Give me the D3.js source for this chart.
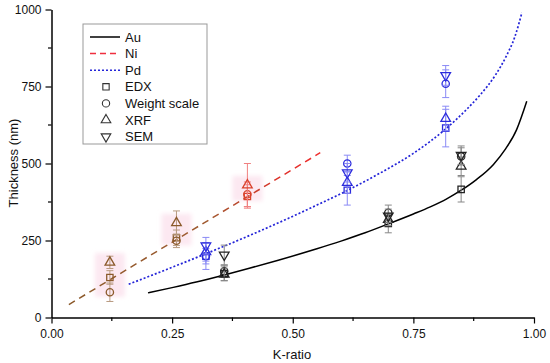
<!DOCTYPE html>
<html>
<head>
<meta charset="utf-8">
<script src="https://cdn.jsdelivr.net/npm/d3@7.9.0/dist/d3.min.js"></script>
<style>
  body { margin: 0; background: #fff; }
  svg { font-family: "Liberation Sans", Arial, sans-serif; }
</style>
</head>
<body>
<svg id="chart" width="550" height="363"></svg>
<script>
// fitted curves
const auK = [0.20, 0.25, 0.30, 0.36, 0.41, 0.47, 0.55, 0.60, 0.65, 0.70, 0.75, 0.785, 0.82, 0.85, 0.88, 0.916, 0.94, 0.964, 0.985];
const auT = [80, 97, 115, 139, 160, 186, 223, 248, 275, 305, 336, 359, 386, 414, 447, 497, 545, 610, 702];
const pdK = [0.16, 0.25, 0.32, 0.41, 0.474, 0.55, 0.61, 0.68, 0.75, 0.785, 0.819, 0.86, 0.888, 0.92, 0.943, 0.96, 0.975];
const pdT = [108, 163, 207, 266, 310, 365, 410, 468, 533, 572, 615, 675, 722, 787, 850, 910, 990];
const niK = [0.036, 0.557];
const niT = [42, 535];

// measured points (one value per K-ratio group)
const niGroups = [0.121, 0.259, 0.406];
const pdGroups = [0.32, 0.613, 0.817];
const auGroups = [0.358, 0.698, 0.849];

const niEDX = [130, 259, 393], niWeight = [82, 249, 400], niXRF = [179, 307, 430];
const pdEDX = [199, 413, 615], pdWeight = [199, 500, 759], pdXRF = [213, 438, 646], pdSEM = [233, 470, 786];
const auEDX = [143, 305, 416], auWeight = [150, 340, 523], auXRF = [140, 318, 491], auSEM = [203, 330, 527];

const niEDXErr = [22, 25, 38], niWeightErr = [30, 22, 40], niXRFErr = [20, 39, 70];
const pdEDXErr = [43, 48, 61], pdWeightErr = [25, 27, 45], pdXRFErr = [30, 35, 40], pdSEMErr = [27, 30, 32];
const auEDXErr = [24, 30, 41], auWeightErr = [20, 25, 28], auXRFErr = [20, 20, 30], auSEMErr = [32, 22, 30];

const xTicks = [0, 0.25, 0.5, 0.75, 1];
const yTicks = [0, 250, 500, 750, 1000];

const svg = d3.select('#chart');
const x = d3.scaleLinear().domain([0, 1]).range([51.5, 534]);
const y = d3.scaleLinear().domain([0, 1000]).range([317.5, 9.5]);

// pink halo behind the Ni groups
const defs = svg.append('defs');
defs.append('filter').attr('id', 'soft').attr('x', '-50%').attr('y', '-50%').attr('width', '200%').attr('height', '200%')
  .append('feGaussianBlur').attr('stdDeviation', 2);
const grad = defs.append('linearGradient').attr('id', 'niGrad').attr('gradientUnits', 'userSpaceOnUse')
  .attr('x1', x(niK[0])).attr('y1', y(niT[0])).attr('x2', x(niK[1])).attr('y2', y(niT[1]));
grad.append('stop').attr('offset', '0%').attr('stop-color', '#8b5a2b');
grad.append('stop').attr('offset', '55%').attr('stop-color', '#a05a30');
grad.append('stop').attr('offset', '85%').attr('stop-color', '#e0302a');
grad.append('stop').attr('offset', '100%').attr('stop-color', '#ef2f2f');

niGroups.forEach((k, i) => {
  const top = Math.max(niXRF[i] + 10, niWeight[i] + 10), bot = Math.min(niWeight[i], niEDX[i]) - 15;
  svg.append('rect')
    .attr('x', x(k) - 15).attr('width', 30)
    .attr('y', y(top + 20)).attr('height', y(bot) - y(top + 20))
    .attr('fill', '#fce8f1').attr('filter', 'url(#soft)');
});

// axes
const xAxis = d3.axisBottom(x).tickValues(xTicks).tickFormat(d3.format('.2f')).tickSize(6).tickSizeOuter(0);
const yAxis = d3.axisLeft(y).tickValues(yTicks).tickFormat(d3.format('d')).tickSize(6).tickSizeOuter(0);

const gx = svg.append('g').attr('transform', `translate(0,${y(0)})`).call(xAxis);
const gy = svg.append('g').attr('transform', `translate(${x(0)},0)`).call(yAxis);
[gx, gy].forEach(g => {
  g.select('.domain').attr('stroke', '#000').attr('stroke-width', 1.5);
  g.selectAll('.tick line').attr('stroke', '#000').attr('stroke-width', 1.2);
  g.selectAll('.tick text').attr('font-size', 12).attr('fill', '#111').attr('font-family', '"Liberation Sans", Arial, sans-serif');
});
gx.selectAll('.tick text').attr('dy', '0.95em');
gy.selectAll('.tick text').attr('dx', '-1px');

// minor ticks
svg.append('g').selectAll('line').data([0.125, 0.375, 0.625, 0.875]).join('line')
  .attr('x1', d => x(d)).attr('x2', d => x(d)).attr('y1', y(0)).attr('y2', y(0) + 3.5)
  .attr('stroke', '#000').attr('stroke-width', 1.2);
svg.append('g').selectAll('line').data([125, 375, 625, 875]).join('line')
  .attr('y1', d => y(d)).attr('y2', d => y(d)).attr('x1', x(0)).attr('x2', x(0) - 3.5)
  .attr('stroke', '#000').attr('stroke-width', 1.2);

svg.append('text').attr('x', 292).attr('y', 359).attr('text-anchor', 'middle')
  .attr('font-size', 13).attr('fill', '#111').text('K-ratio');
svg.append('text').attr('transform', 'translate(18,163) rotate(-90)').attr('text-anchor', 'middle')
  .attr('font-size', 13).attr('fill', '#111').text('Thickness (nm)');

// curves
const line = d3.line().x(d => x(d[0])).y(d => y(d[1])).curve(d3.curveMonotoneX);
svg.append('path').attr('d', line(d3.zip(auK, auT)))
  .attr('fill', 'none').attr('stroke', '#000').attr('stroke-width', 1.5);
svg.append('path').attr('d', line(d3.zip(niK, niT)))
  .attr('fill', 'none').attr('stroke', 'url(#niGrad)').attr('stroke-width', 1.5).attr('stroke-dasharray', '7,5');
svg.append('path').attr('d', line(d3.zip(pdK, pdT)))
  .attr('fill', 'none').attr('stroke', '#2424d8').attr('stroke-width', 1.7).attr('stroke-dasharray', '2,2');

// symbols
const sym = {
  EDX: d3.symbol().type(d3.symbolSquare).size(40),
  Weight: d3.symbol().type(d3.symbolCircle).size(42),
  XRF: d3.symbol().type(d3.symbolTriangle).size(40),
  SEM: d3.symbol().type(d3.symbolTriangle).size(40)
};

function drawSet(groups, values, errs, method, color, errColor) {
  const g = svg.append('g');
  groups.forEach((k, i) => {
    const c = typeof color === 'function' ? color(i) : color;
    const ec = typeof errColor === 'function' ? errColor(i) : errColor;
    const cx = x(k), v = values[i], e = errs[i];
    g.append('line').attr('x1', cx).attr('x2', cx).attr('y1', y(v - e)).attr('y2', y(v + e))
      .attr('stroke', ec).attr('stroke-width', 1);
    [v - e, v + e].forEach(t => g.append('line')
      .attr('x1', cx - 3.5).attr('x2', cx + 3.5).attr('y1', y(t)).attr('y2', y(t))
      .attr('stroke', ec).attr('stroke-width', 1));
    const rot = method === 'SEM' ? ' rotate(180)' : '';
    g.append('path').attr('d', sym[method]())
      .attr('transform', `translate(${cx},${y(v)})${rot}`)
      .attr('fill', 'none').attr('stroke', c).attr('stroke-width', 1.3);
  });
}

const niColor = i => i < 2 ? '#8b5a2b' : '#d9412b';
const niErr = i => i < 2 ? '#b89a80' : '#f08080';
drawSet(niGroups, niEDX, niEDXErr, 'EDX', niColor, niErr);
drawSet(niGroups, niWeight, niWeightErr, 'Weight', niColor, niErr);
drawSet(niGroups, niXRF, niXRFErr, 'XRF', niColor, niErr);
drawSet(pdGroups, pdEDX, pdEDXErr, 'EDX', '#2b2bdc', '#8a8af5');
drawSet(pdGroups, pdWeight, pdWeightErr, 'Weight', '#2b2bdc', '#8a8af5');
drawSet(pdGroups, pdXRF, pdXRFErr, 'XRF', '#2b2bdc', '#8a8af5');
drawSet(pdGroups, pdSEM, pdSEMErr, 'SEM', '#2b2bdc', '#8a8af5');
drawSet(auGroups, auEDX, auEDXErr, 'EDX', '#222', '#888');
drawSet(auGroups, auWeight, auWeightErr, 'Weight', '#222', '#888');
drawSet(auGroups, auXRF, auXRFErr, 'XRF', '#222', '#888');
drawSet(auGroups, auSEM, auSEMErr, 'SEM', '#222', '#888');

// legend
const legendNames = ['Au', 'Ni', 'Pd', 'EDX', 'Weight scale', 'XRF', 'SEM'];
const lg = svg.append('g');
lg.append('rect').attr('x', 83).attr('y', 24).attr('width', 124).attr('height', 120)
  .attr('fill', '#fff').attr('stroke', '#999').attr('stroke-width', 1);
legendNames.forEach((name, i) => {
  const ly = 37 + i * 16.6;
  if (i === 0) lg.append('line').attr('x1', 90).attr('x2', 120).attr('y1', ly).attr('y2', ly).attr('stroke', '#000').attr('stroke-width', 1.5);
  if (i === 1) lg.append('line').attr('x1', 90).attr('x2', 120).attr('y1', ly).attr('y2', ly).attr('stroke', '#ef2f3f').attr('stroke-width', 1.5).attr('stroke-dasharray', '6,4');
  if (i === 2) lg.append('line').attr('x1', 90).attr('x2', 120).attr('y1', ly).attr('y2', ly).attr('stroke', '#2424d8').attr('stroke-width', 1.5).attr('stroke-dasharray', '2,2');
  if (i >= 3) {
    const m = ['EDX', 'Weight', 'XRF', 'SEM'][i - 3];
    lg.append('path').attr('d', sym[m]())
      .attr('transform', `translate(106,${ly})${m === 'SEM' ? ' rotate(180)' : ''}`)
      .attr('fill', 'none').attr('stroke', '#333').attr('stroke-width', 1.1);
  }
  lg.append('text').attr('x', 125).attr('y', ly + 4.5).attr('font-size', 13).attr('fill', '#111').text(name);
});
</script>
</body>
</html>
